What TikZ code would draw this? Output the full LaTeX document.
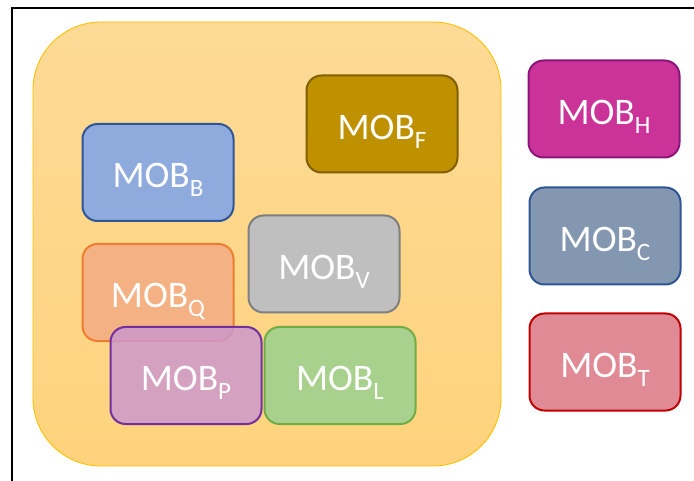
\documentclass[tikz,border=0pt]{standalone}
\usepackage{fontspec}
\setmainfont{Carlito}
\newcommand{\mobtext}[1]{MOB\raisebox{-9pt}[0pt][0pt]{\fontsize{25}{27}\selectfont #1}}
\definecolor{bigtop}{RGB}{253,218,150}
\definecolor{bigbot}{RGB}{255,211,125}
\definecolor{bigline}{RGB}{255,192,0}
\definecolor{fF}{RGB}{191,144,0}\definecolor{dF}{RGB}{127,96,0}
\definecolor{fB}{RGB}{143,170,220}\definecolor{dB}{RGB}{47,85,151}
\definecolor{fV}{RGB}{191,191,191}\definecolor{dV}{RGB}{127,127,127}
\definecolor{fQ}{RGB}{244,177,131}\definecolor{dQ}{RGB}{237,125,49}
\definecolor{fP}{RGB}{205,153,204}\definecolor{dP}{RGB}{112,48,160}
\definecolor{fL}{RGB}{169,209,142}\definecolor{dL}{RGB}{112,173,71}
\definecolor{fH}{RGB}{204,51,153}\definecolor{dH}{RGB}{139,20,124}
\definecolor{fC}{RGB}{132,151,176}\definecolor{dC}{RGB}{47,85,151}
\definecolor{fT}{RGB}{224,138,150}\definecolor{dT}{RGB}{192,0,0}
\tikzset{
  mobbox/.style={rectangle, rounded corners=15pt, line width=2pt,
    minimum width=151pt, minimum height=97pt, inner sep=0pt,
    text=white, font=\fontsize{37.5}{40}\selectfont},
  moblabel/.style={text=white, font=\fontsize{37.5}{40}\selectfont, inner sep=0pt},
}
\begin{document}
\begin{tikzpicture}[x=1pt,y=-1pt]
\useasboundingbox (0,0) rectangle (694,481);
\fill[white] (0,0) rectangle (694,481);
% frame
\draw[line width=1.8pt, black] (12,481) -- (12,8) -- (694,8);
% big container
\draw[bigline, line width=0.9pt, top color=bigtop, bottom color=bigbot, rounded corners=68pt]
  (33,22) rectangle (501,466);
% boxes
\node[mobbox, fill=fF, draw=dF] (F) at (382,124) {};
\node[mobbox, fill=fB, draw=dB] (B) at (158,172.5) {};
\node[mobbox, fill=fV, draw=dV] (V) at (324,264) {};
\node[mobbox, fill=fQ, draw=dQ] (Q) at (158,292.5) {};
\node[mobbox, fill=fP, fill opacity=0.85, draw=dP] (P) at (186,375.5) {};
\node[mobbox, fill=fL, draw=dL] (L) at (340,375.5) {};
\node[mobbox, fill=fH, draw=dH] (H) at (604,109) {};
\node[mobbox, fill=fC, draw=dC] (C) at (605,236) {};
\node[mobbox, fill=fT, draw=dT] (T) at (605,362) {};
% labels
\foreach \n/\s in {F/F,B/B,V/V,Q/Q,P/P,L/L,H/H,C/C,T/T}
  \node[moblabel, yshift=-3pt] (lab\n) at (\n.center) {\mobtext{\s}};
\end{tikzpicture}
\end{document}
